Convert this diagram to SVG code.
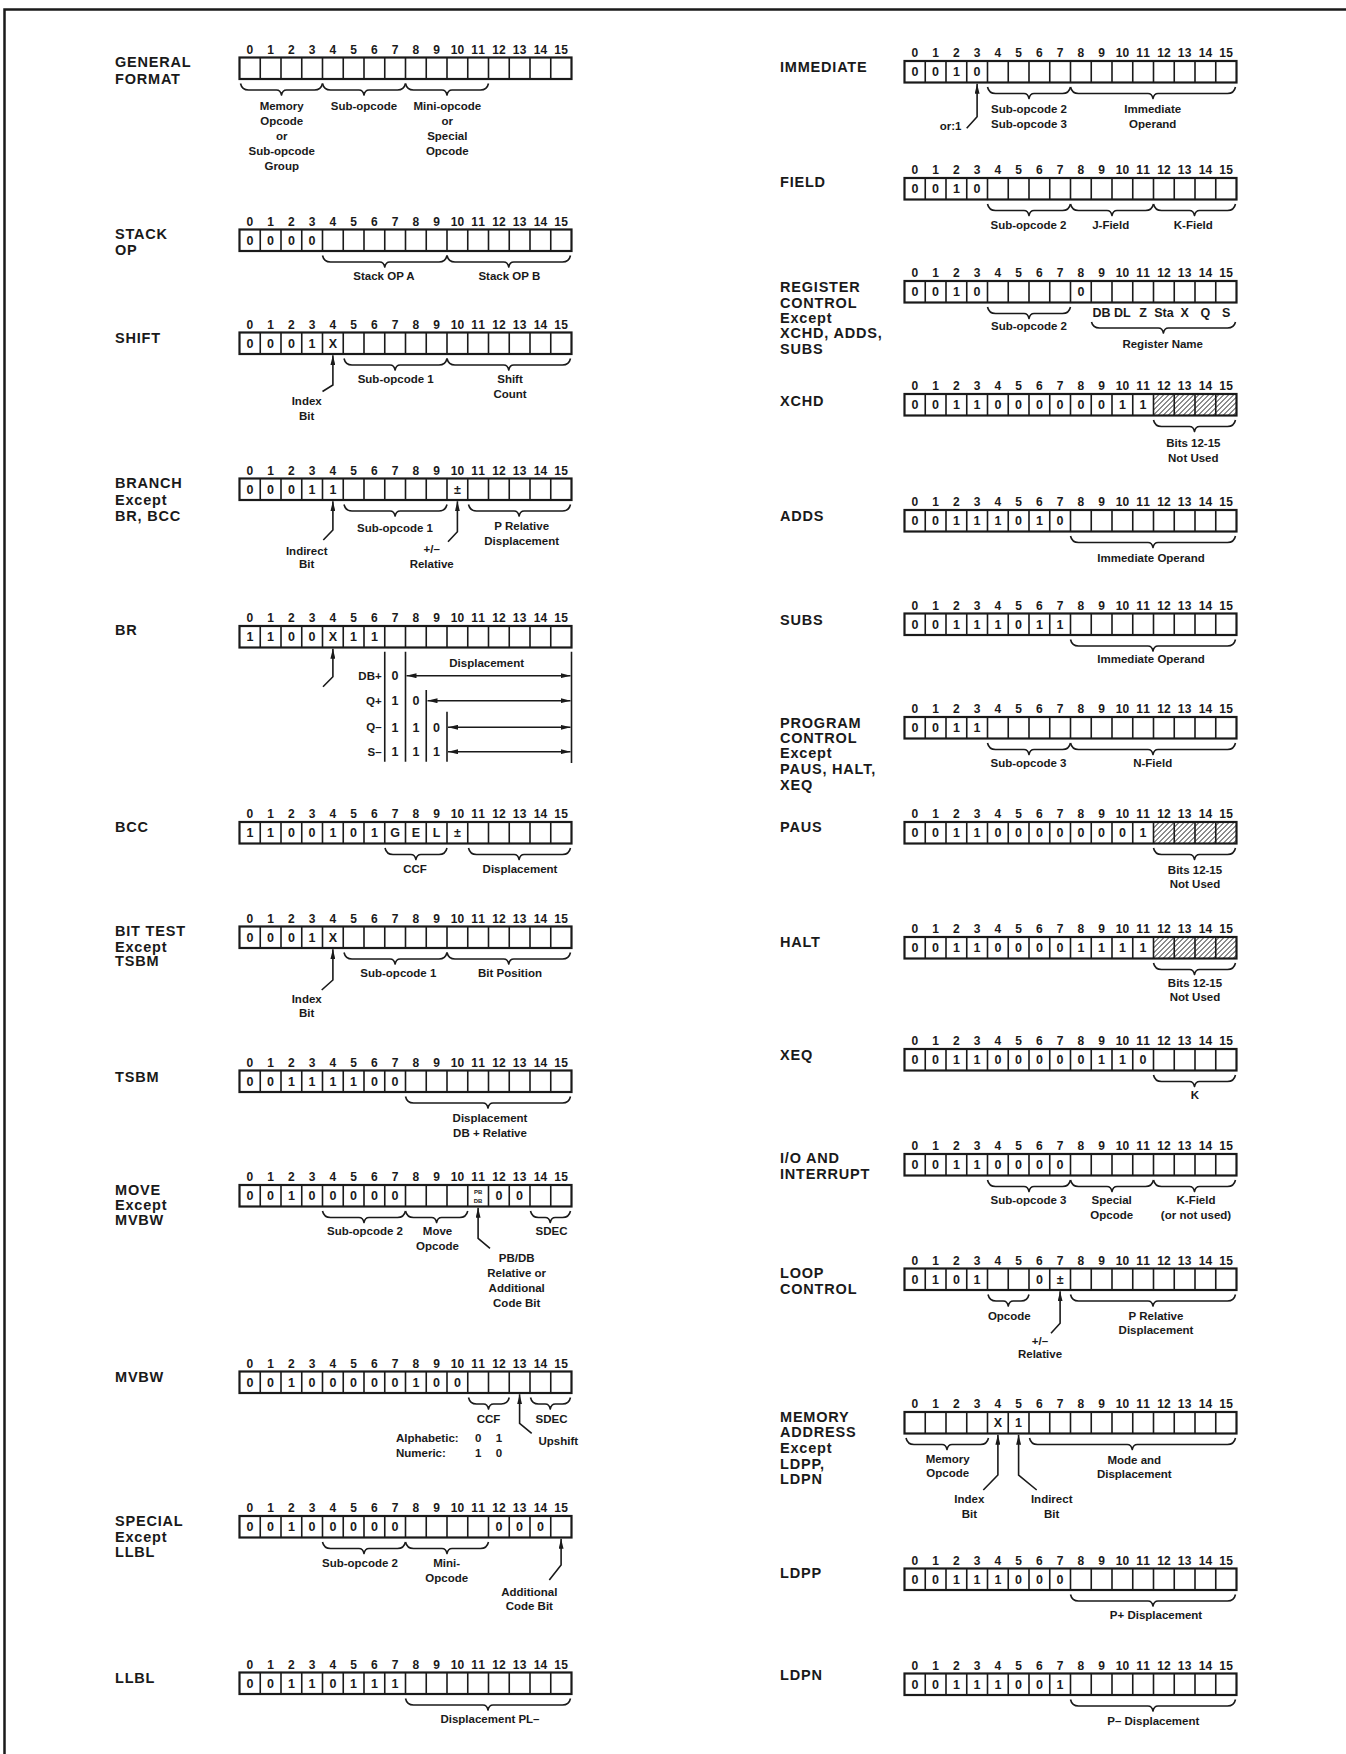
<svg xmlns="http://www.w3.org/2000/svg" xmlns:xlink="http://www.w3.org/1999/xlink" width="1346" height="1754" viewBox="0 0 1346 1754">
<style>
.box{fill:none;stroke:#1a1a1a;stroke-width:2.2}
.div{fill:none;stroke:#1a1a1a;stroke-width:1.6}
.brace{fill:none;stroke:#1a1a1a;stroke-width:1.6;stroke-linejoin:round}
.ln{fill:none;stroke:#1a1a1a;stroke-width:1.6}
.num{font-family:"Liberation Sans",Arial,sans-serif;font-size:12px;font-weight:bold;text-anchor:middle;fill:#1a1a1a}
.val{font-family:"Liberation Sans",Arial,sans-serif;font-size:12.5px;font-weight:bold;text-anchor:middle;fill:#1a1a1a}
.tiny{font-family:"Liberation Sans",Arial,sans-serif;font-size:6px;font-weight:bold;text-anchor:middle;fill:#1a1a1a}
.name{font-family:"Liberation Sans",Arial,sans-serif;font-size:14.5px;font-weight:bold;letter-spacing:0.8px;fill:#1a1a1a}
.lbl{font-family:"Liberation Sans",Arial,sans-serif;font-size:11.5px;font-weight:bold;text-anchor:middle;fill:#1a1a1a}
.lbl-l{font-family:"Liberation Sans",Arial,sans-serif;font-size:11.5px;font-weight:bold;fill:#1a1a1a}
.lbl-r{font-family:"Liberation Sans",Arial,sans-serif;font-size:11.5px;font-weight:bold;text-anchor:end;fill:#1a1a1a}
.arrow{fill:none;stroke:#1a1a1a;stroke-width:1.6;marker-end:url(#ah)}
.darrow{fill:none;stroke:#1a1a1a;stroke-width:1.6;marker-start:url(#ah);marker-end:url(#ah)}
</style>
<defs>
<marker id="ah" viewBox="0 0 10 5" refX="10" refY="2.5" markerWidth="10" markerHeight="5" orient="auto-start-reverse" markerUnits="userSpaceOnUse"><path d="M0,0 L10,2.5 L0,5 z" fill="#1a1a1a"/></marker>
<pattern id="hatch" patternUnits="userSpaceOnUse" width="5" height="5"><path d="M0,5 L5,0 M-1,1 L1,-1 M4,6 L6,4" stroke="#1a1a1a" stroke-width="1"/></pattern>
<g id="reg"><rect x="0" y="0" width="332" height="21.5" class="box"/><path class="div" d="M20.75,0v21.5M41.5,0v21.5M62.25,0v21.5M83,0v21.5M103.75,0v21.5M124.5,0v21.5M145.25,0v21.5M166,0v21.5M186.75,0v21.5M207.5,0v21.5M228.25,0v21.5M249,0v21.5M269.75,0v21.5M290.5,0v21.5M311.25,0v21.5"/></g>
</defs>
<rect x="0" y="0" width="1346" height="1754" fill="#ffffff"/>
<path d="M4.5,1754 V9.5 H1346" fill="none" stroke="#1a1a1a" stroke-width="2.5"/>

<!-- LEFT COLUMN -->
<g id="general-format" transform="translate(239.5,57.5)">
<text class="name" x="-124.5" y="9.5">GENERAL</text>
<text class="name" x="-124.5" y="26">FORMAT</text>
<use xlink:href="#reg" href="#reg"/>
<text class="num" x="10.4 31.1 51.9 72.6 93.4 114.1 134.9 155.6 176.4 197.1 214.5 221.3 235.2 242 256 262.8 276.7 283.5 297.5 304.3 318.2 325" y="-4">0123456789101112131415</text>
<path class="brace" d="M1,26 Q2.5,32.5 9,32.5 H37 Q41,32.5 42,37.5 Q43,32.5 47,32.5 H75 Q81.5,32.5 83,26"/>
<path class="brace" d="M83,26 Q84.5,32.5 91,32.5 H119.5 Q123.5,32.5 124.5,37.5 Q125.5,32.5 129.5,32.5 H158 Q164.5,32.5 166,26"/>
<path class="brace" d="M166,26 Q167.5,32.5 174,32.5 H202.5 Q206.5,32.5 207.5,37.5 Q208.5,32.5 212.5,32.5 H241 Q247.5,32.5 249,26"/>
<text class="lbl" x="42.2" y="52.5">Memory</text>
<text class="lbl" x="42.2" y="67.5">Opcode</text>
<text class="lbl" x="42.2" y="82.5">or</text>
<text class="lbl" x="42.2" y="97.5">Sub-opcode</text>
<text class="lbl" x="42.2" y="112.5">Group</text>
<text class="lbl" x="124.5" y="52.5">Sub-opcode</text>
<text class="lbl" x="207.8" y="52.5">Mini-opcode</text>
<text class="lbl" x="207.8" y="67.5">or</text>
<text class="lbl" x="207.8" y="82.5">Special</text>
<text class="lbl" x="207.8" y="97.5">Opcode</text>
</g>

<g id="stack-op" transform="translate(239.5,229.5)">
<text class="name" x="-124.5" y="9.8">STACK</text>
<text class="name" x="-124.5" y="25.5">OP</text>
<use xlink:href="#reg" href="#reg"/>
<text class="num" x="10.4 31.1 51.9 72.6 93.4 114.1 134.9 155.6 176.4 197.1 214.5 221.3 235.2 242 256 262.8 276.7 283.5 297.5 304.3 318.2 325" y="-4">0123456789101112131415</text>
<text class="val" x="10.4 31.1 51.9 72.6" y="15.3">0000</text>
<path class="brace" d="M83,26 Q84.5,32.5 91,32.5 H140.25 Q144.25,32.5 145.25,37.5 Q146.25,32.5 150.25,32.5 H199.5 Q206,32.5 207.5,26"/>
<path class="brace" d="M207.5,26 Q209,32.5 215.5,32.5 H264.25 Q268.25,32.5 269.25,37.5 Q270.25,32.5 274.25,32.5 H323 Q329.5,32.5 331,26"/>
<text class="lbl" x="144.5" y="50.5">Stack OP A</text>
<text class="lbl" x="269.8" y="50.5">Stack OP B</text>
</g>

<g id="shift" transform="translate(239.5,332.5)">
<text class="name" x="-124.5" y="10.2">SHIFT</text>
<use xlink:href="#reg" href="#reg"/>
<text class="num" x="10.4 31.1 51.9 72.6 93.4 114.1 134.9 155.6 176.4 197.1 214.5 221.3 235.2 242 256 262.8 276.7 283.5 297.5 304.3 318.2 325" y="-4">0123456789101112131415</text>
<text class="val" x="10.4 31.1 51.9 72.6 93.4" y="15.3">0001X</text>
<path class="brace" d="M104.5,26 Q106,32.5 112.5,32.5 H150.6 Q154.6,32.5 155.6,37.5 Q156.6,32.5 160.6,32.5 H199.5 Q206,32.5 207.5,26"/>
<path class="brace" d="M207.5,26 Q209,32.5 215.5,32.5 H264.25 Q268.25,32.5 269.25,37.5 Q270.25,32.5 274.25,32.5 H323 Q329.5,32.5 331,26"/>
<text class="lbl" x="156.2" y="50.5">Sub-opcode 1</text>
<text class="lbl" x="270.5" y="50.5">Shift</text>
<text class="lbl" x="270.5" y="65.5">Count</text>
<text class="lbl" x="67.2" y="72">Index</text>
<text class="lbl" x="67.2" y="87">Bit</text>
</g>

<g id="branch" transform="translate(239.5,478.5)">
<text class="name" x="-124.5" y="9.8">BRANCH</text>
<text class="name" x="-124.5" y="26.5">Except</text>
<text class="name" x="-124.5" y="42.2">BR, BCC</text>
<use xlink:href="#reg" href="#reg"/>
<text class="num" x="10.4 31.1 51.9 72.6 93.4 114.1 134.9 155.6 176.4 197.1 214.5 221.3 235.2 242 256 262.8 276.7 283.5 297.5 304.3 318.2 325" y="-4">0123456789101112131415</text>
<text class="val" x="10.4 31.1 51.9 72.6 93.4 217.9" y="15.3">00011±</text>
<path class="brace" d="M104.5,26 Q106,32.5 112.5,32.5 H150.6 Q154.6,32.5 155.6,37.5 Q156.6,32.5 160.6,32.5 H199.5 Q206,32.5 207.5,26"/>
<path class="brace" d="M229,26 Q230.5,32.5 237,32.5 H274.6 Q278.6,32.5 279.6,37.5 Q280.6,32.5 284.6,32.5 H323 Q329.5,32.5 331,26"/>
<text class="lbl" x="155.5" y="53.2">Sub-opcode 1</text>
<text class="lbl" x="282.2" y="51.5">P Relative</text>
<text class="lbl" x="282.2" y="66.5">Displacement</text>
<text class="lbl" x="67.2" y="76.5">Indirect</text>
<text class="lbl" x="67.2" y="89.5">Bit</text>
<text class="lbl" x="192.2" y="74.8">+/–</text>
<text class="lbl" x="192.2" y="89.5">Relative</text>
</g>

<g id="br" transform="translate(239.5,626)">
<text class="name" x="-124.5" y="9">BR</text>
<use xlink:href="#reg" href="#reg"/>
<text class="num" x="10.4 31.1 51.9 72.6 93.4 114.1 134.9 155.6 176.4 197.1 214.5 221.3 235.2 242 256 262.8 276.7 283.5 297.5 304.3 318.2 325" y="-4">0123456789101112131415</text>
<text class="val" x="10.4 31.1 51.9 72.6 93.4 114.1 134.9" y="15.3">1100X11</text>
<path class="ln" d="M145.25,25.7V135.7M166,25.7V135.7M186.75,64V135.7M207.5,85.7V135.7M332,25.7V137"/>
<text class="lbl" x="247.2" y="40.7">Displacement</text>
<text class="lbl-r" x="142.2" y="53.5">DB+</text>
<text class="lbl-r" x="142.2" y="79">Q+</text>
<text class="lbl-r" x="142.2" y="105">Q–</text>
<text class="lbl-r" x="142.2" y="129.5">S–</text>
<text class="val" x="155.6" y="53.7">0</text>
<text class="val" x="155.6 176.4" y="79">10</text>
<text class="val" x="155.6 176.4 197.1" y="105.5">110</text>
<text class="val" x="155.6 176.4 197.1" y="130">111</text>
</g>

<g id="bcc" transform="translate(239.5,822)">
<text class="name" x="-124.5" y="9.7">BCC</text>
<use xlink:href="#reg" href="#reg"/>
<text class="num" x="10.4 31.1 51.9 72.6 93.4 114.1 134.9 155.6 176.4 197.1 214.5 221.3 235.2 242 256 262.8 276.7 283.5 297.5 304.3 318.2 325" y="-4">0123456789101112131415</text>
<text class="val" x="10.4 31.1 51.9 72.6 93.4 114.1 134.9 155.6 176.4 197.1 217.9" y="15.3">1100101GEL±</text>
<path class="brace" d="M145.5,26 Q147,32.5 153.5,32.5 H171.4 Q175.4,32.5 176.4,37.5 Q177.4,32.5 181.4,32.5 H199.5 Q206,32.5 207.5,26"/>
<path class="brace" d="M229,26 Q230.5,32.5 237,32.5 H274.6 Q278.6,32.5 279.6,37.5 Q280.6,32.5 284.6,32.5 H323 Q329.5,32.5 331,26"/>
<text class="lbl" x="175.5" y="51.3">CCF</text>
<text class="lbl" x="280.5" y="51.3">Displacement</text>
</g>

<g id="bit-test" transform="translate(239.5,926.5)">
<text class="name" x="-124.5" y="9.5">BIT TEST</text>
<text class="name" x="-124.5" y="25.2">Except</text>
<text class="name" x="-124.5" y="39.5">TSBM</text>
<use xlink:href="#reg" href="#reg"/>
<text class="num" x="10.4 31.1 51.9 72.6 93.4 114.1 134.9 155.6 176.4 197.1 214.5 221.3 235.2 242 256 262.8 276.7 283.5 297.5 304.3 318.2 325" y="-4">0123456789101112131415</text>
<text class="val" x="10.4 31.1 51.9 72.6 93.4" y="15.3">0001X</text>
<path class="brace" d="M104.5,26 Q106,32.5 112.5,32.5 H150.6 Q154.6,32.5 155.6,37.5 Q156.6,32.5 160.6,32.5 H199.5 Q206,32.5 207.5,26"/>
<path class="brace" d="M207.5,26 Q209,32.5 215.5,32.5 H264.25 Q268.25,32.5 269.25,37.5 Q270.25,32.5 274.25,32.5 H323 Q329.5,32.5 331,26"/>
<text class="lbl" x="158.8" y="50.8">Sub-opcode 1</text>
<text class="lbl" x="270.5" y="50.8">Bit Position</text>
<text class="lbl" x="67.2" y="76.8">Index</text>
<text class="lbl" x="67.2" y="90.2">Bit</text>
</g>

<g id="tsbm" transform="translate(239.5,1070.5)">
<text class="name" x="-124.5" y="11.2">TSBM</text>
<use xlink:href="#reg" href="#reg"/>
<text class="num" x="10.4 31.1 51.9 72.6 93.4 114.1 134.9 155.6 176.4 197.1 214.5 221.3 235.2 242 256 262.8 276.7 283.5 297.5 304.3 318.2 325" y="-4">0123456789101112131415</text>
<text class="val" x="10.4 31.1 51.9 72.6 93.4 114.1 134.9 155.6" y="15.3">00111100</text>
<path class="brace" d="M166,26 Q167.5,32.5 174,32.5 H243.5 Q247.5,32.5 248.5,37.5 Q249.5,32.5 253.5,32.5 H323 Q329.5,32.5 331,26"/>
<text class="lbl" x="250.5" y="51.2">Displacement</text>
<text class="lbl" x="250.5" y="66.2">DB + Relative</text>
</g>

<g id="move" transform="translate(239.5,1185)">
<text class="name" x="-124.5" y="10">MOVE</text>
<text class="name" x="-124.5" y="25">Except</text>
<text class="name" x="-124.5" y="40">MVBW</text>
<use xlink:href="#reg" href="#reg"/>
<text class="num" x="10.4 31.1 51.9 72.6 93.4 114.1 134.9 155.6 176.4 197.1 214.5 221.3 235.2 242 256 262.8 276.7 283.5 297.5 304.3 318.2 325" y="-4">0123456789101112131415</text>
<text class="val" x="10.4 31.1 51.9 72.6 93.4 114.1 134.9 155.6" y="15.3">00100000</text>
<text class="val" x="259.4 280.1" y="15.3">00</text>
<text class="tiny" x="238.6" y="8.5">PB</text>
<text class="tiny" x="238.6" y="18">DB</text>
<path class="brace" d="M83,26 Q84.5,32.5 91,32.5 H119.5 Q123.5,32.5 124.5,37.5 Q125.5,32.5 129.5,32.5 H158 Q164.5,32.5 166,26"/>
<path class="brace" d="M166,26 Q167.5,32.5 174,32.5 H192.1 Q196.1,32.5 197.1,37.5 Q198.1,32.5 202.1,32.5 H220.25 Q226.75,32.5 228.25,26"/>
<path class="brace" d="M291,26 Q292.5,32.5 299,32.5 H305.75 Q309.75,32.5 310.75,37.5 Q311.75,32.5 315.75,32.5 H323 Q329.5,32.5 331,26"/>
<text class="lbl" x="125.5" y="50">Sub-opcode 2</text>
<text class="lbl" x="198" y="50">Move</text>
<text class="lbl" x="198" y="65">Opcode</text>
<text class="lbl" x="312" y="50">SDEC</text>
<text class="lbl" x="277.2" y="76.7">PB/DB</text>
<text class="lbl" x="277.2" y="91.7">Relative or</text>
<text class="lbl" x="277.2" y="106.7">Additional</text>
<text class="lbl" x="277.2" y="121.7">Code Bit</text>
</g>

<g id="mvbw" transform="translate(239.5,1371.5)">
<text class="name" x="-124.5" y="10.2">MVBW</text>
<use xlink:href="#reg" href="#reg"/>
<text class="num" x="10.4 31.1 51.9 72.6 93.4 114.1 134.9 155.6 176.4 197.1 214.5 221.3 235.2 242 256 262.8 276.7 283.5 297.5 304.3 318.2 325" y="-4">0123456789101112131415</text>
<text class="val" x="10.4 31.1 51.9 72.6 93.4 114.1 134.9 155.6 176.4 197.1 217.9" y="15.3">00100000100</text>
<path class="brace" d="M229,26 Q230.5,32.5 237,32.5 H244 Q248,32.5 249,37.5 Q250,32.5 254,32.5 H261.75 Q268.25,32.5 269.75,26"/>
<path class="brace" d="M291,26 Q292.5,32.5 299,32.5 H305.75 Q309.75,32.5 310.75,37.5 Q311.75,32.5 315.75,32.5 H323 Q329.5,32.5 331,26"/>
<text class="lbl" x="249" y="51.8">CCF</text>
<text class="lbl" x="312" y="51.8">SDEC</text>
<text class="lbl" x="318.8" y="73.5">Upshift</text>
<text class="lbl-l" x="156.5" y="70.2">Alphabetic:</text>
<text class="lbl-l" x="156.5" y="85.2">Numeric:</text>
<text class="lbl" x="238.6 259.4" y="70.2">01</text>
<text class="lbl" x="238.6 259.4" y="85.2">10</text>
</g>

<g id="special" transform="translate(239.5,1516)">
<text class="name" x="-124.5" y="10">SPECIAL</text>
<text class="name" x="-124.5" y="25.7">Except</text>
<text class="name" x="-124.5" y="41.3">LLBL</text>
<use xlink:href="#reg" href="#reg"/>
<text class="num" x="10.4 31.1 51.9 72.6 93.4 114.1 134.9 155.6 176.4 197.1 214.5 221.3 235.2 242 256 262.8 276.7 283.5 297.5 304.3 318.2 325" y="-4">0123456789101112131415</text>
<text class="val" x="10.4 31.1 51.9 72.6 93.4 114.1 134.9 155.6 259.4 280.1 300.9" y="15.3">00100000000</text>
<path class="brace" d="M83,26 Q84.5,32.5 91,32.5 H119.5 Q123.5,32.5 124.5,37.5 Q125.5,32.5 129.5,32.5 H158 Q164.5,32.5 166,26"/>
<path class="brace" d="M166,26 Q167.5,32.5 174,32.5 H202.5 Q206.5,32.5 207.5,37.5 Q208.5,32.5 212.5,32.5 H241 Q247.5,32.5 249,26"/>
<text class="lbl" x="120.5" y="50.7">Sub-opcode 2</text>
<text class="lbl" x="207.2" y="50.7">Mini-</text>
<text class="lbl" x="207.2" y="65.7">Opcode</text>
<text class="lbl" x="289.8" y="80">Additional</text>
<text class="lbl" x="289.8" y="94">Code Bit</text>
</g>

<g id="llbl" transform="translate(239.5,1672.5)">
<text class="name" x="-124.5" y="10.2">LLBL</text>
<use xlink:href="#reg" href="#reg"/>
<text class="num" x="10.4 31.1 51.9 72.6 93.4 114.1 134.9 155.6 176.4 197.1 214.5 221.3 235.2 242 256 262.8 276.7 283.5 297.5 304.3 318.2 325" y="-4">0123456789101112131415</text>
<text class="val" x="10.4 31.1 51.9 72.6 93.4 114.1 134.9 155.6" y="15.3">00110111</text>
<path class="brace" d="M166,26 Q167.5,32.5 174,32.5 H243.5 Q247.5,32.5 248.5,37.5 Q249.5,32.5 253.5,32.5 H323 Q329.5,32.5 331,26"/>
<text class="lbl" x="250.5" y="50.8">Displacement PL–</text>
</g>

<!-- RIGHT COLUMN -->
<g id="immediate" transform="translate(904.5,61)">
<text class="name" x="-124.5" y="10.7">IMMEDIATE</text>
<use xlink:href="#reg" href="#reg"/>
<text class="num" x="10.4 31.1 51.9 72.6 93.4 114.1 134.9 155.6 176.4 197.1 214.5 221.3 235.2 242 256 262.8 276.7 283.5 297.5 304.3 318.2 325" y="-4">0123456789101112131415</text>
<text class="val" x="10.4 31.1 51.9 72.6" y="15.3">0010</text>
<path class="brace" d="M83,26 Q84.5,32.5 91,32.5 H119.5 Q123.5,32.5 124.5,37.5 Q125.5,32.5 129.5,32.5 H158 Q164.5,32.5 166,26"/>
<path class="brace" d="M166,26 Q167.5,32.5 174,32.5 H243.5 Q247.5,32.5 248.5,37.5 Q249.5,32.5 253.5,32.5 H323 Q329.5,32.5 331,26"/>
<text class="lbl" x="124.5" y="52.3">Sub-opcode 2</text>
<text class="lbl" x="124.5" y="67.3">Sub-opcode 3</text>
<text class="lbl" x="248.2" y="52.3">Immediate</text>
<text class="lbl" x="248.2" y="67.3">Operand</text>
<text class="lbl-r" x="57" y="69">or:1</text>
</g>

<g id="field" transform="translate(904.5,178)">
<text class="name" x="-124.5" y="9.3">FIELD</text>
<use xlink:href="#reg" href="#reg"/>
<text class="num" x="10.4 31.1 51.9 72.6 93.4 114.1 134.9 155.6 176.4 197.1 214.5 221.3 235.2 242 256 262.8 276.7 283.5 297.5 304.3 318.2 325" y="-4">0123456789101112131415</text>
<text class="val" x="10.4 31.1 51.9 72.6" y="15.3">0010</text>
<path class="brace" d="M83,26 Q84.5,32.5 91,32.5 H119.5 Q123.5,32.5 124.5,37.5 Q125.5,32.5 129.5,32.5 H158 Q164.5,32.5 166,26"/>
<path class="brace" d="M166,26 Q167.5,32.5 174,32.5 H202.5 Q206.5,32.5 207.5,37.5 Q208.5,32.5 212.5,32.5 H241 Q247.5,32.5 249,26"/>
<path class="brace" d="M249,26 Q250.5,32.5 257,32.5 H285 Q289,32.5 290,37.5 Q291,32.5 295,32.5 H323 Q329.5,32.5 331,26"/>
<text class="lbl" x="124" y="51.3">Sub-opcode 2</text>
<text class="lbl" x="206.2" y="51.3">J-Field</text>
<text class="lbl" x="288.8" y="51.3">K-Field</text>
</g>

<g id="register-control" transform="translate(904.5,281)">
<text class="name" x="-124.5" y="10.7">REGISTER</text>
<text class="name" x="-124.5" y="26.7">CONTROL</text>
<text class="name" x="-124.5" y="41.7">Except</text>
<text class="name" x="-124.5" y="57.3">XCHD, ADDS,</text>
<text class="name" x="-124.5" y="73">SUBS</text>
<use xlink:href="#reg" href="#reg"/>
<text class="num" x="10.4 31.1 51.9 72.6 93.4 114.1 134.9 155.6 176.4 197.1 214.5 221.3 235.2 242 256 262.8 276.7 283.5 297.5 304.3 318.2 325" y="-4">0123456789101112131415</text>
<text class="val" x="10.4 31.1 51.9 72.6 176.4" y="15.3">00100</text>
<path class="brace" d="M83,26 Q84.5,32.5 91,32.5 H119.5 Q123.5,32.5 124.5,37.5 Q125.5,32.5 129.5,32.5 H158 Q164.5,32.5 166,26"/>
<text class="lbl" x="124.5" y="49">Sub-opcode 2</text>
<text class="val" x="197.1" y="35.7">DB</text>
<text class="val" x="217.9" y="35.7">DL</text>
<text class="val" x="238.6" y="35.7">Z</text>
<text class="val" x="259.4" y="35.7">Sta</text>
<text class="val" x="280.1" y="35.7">X</text>
<text class="val" x="300.9" y="35.7">Q</text>
<text class="val" x="321.6" y="35.7">S</text>
<path class="brace" d="M187,41 Q188.5,47 195,47 H253.9 Q257.9,47 258.9,52 Q259.9,47 263.9,47 H323 Q329.5,47 331,41"/>
<text class="lbl" x="258.2" y="67.3">Register Name</text>
</g>

<g id="xchd" transform="translate(904.5,394)">
<text class="name" x="-124.5" y="11.5">XCHD</text>
<rect x="249" y="0" width="83" height="21.5" fill="url(#hatch)"/>
<use xlink:href="#reg" href="#reg"/>
<text class="num" x="10.4 31.1 51.9 72.6 93.4 114.1 134.9 155.6 176.4 197.1 214.5 221.3 235.2 242 256 262.8 276.7 283.5 297.5 304.3 318.2 325" y="-4">0123456789101112131415</text>
<text class="val" x="10.4 31.1 51.9 72.6 93.4 114.1 134.9 155.6 176.4 197.1 217.9 238.6" y="15.3">001100000011</text>
<path class="brace" d="M249,26 Q250.5,32.5 257,32.5 H285 Q289,32.5 290,37.5 Q291,32.5 295,32.5 H323 Q329.5,32.5 331,26"/>
<text class="lbl" x="288.8" y="52.7">Bits 12-15</text>
<text class="lbl" x="288.8" y="67.7">Not Used</text>
</g>

<g id="adds" transform="translate(904.5,510)">
<text class="name" x="-124.5" y="10.7">ADDS</text>
<use xlink:href="#reg" href="#reg"/>
<text class="num" x="10.4 31.1 51.9 72.6 93.4 114.1 134.9 155.6 176.4 197.1 214.5 221.3 235.2 242 256 262.8 276.7 283.5 297.5 304.3 318.2 325" y="-4">0123456789101112131415</text>
<text class="val" x="10.4 31.1 51.9 72.6 93.4 114.1 134.9 155.6" y="15.3">00111010</text>
<path class="brace" d="M166,26 Q167.5,32.5 174,32.5 H243.5 Q247.5,32.5 248.5,37.5 Q249.5,32.5 253.5,32.5 H323 Q329.5,32.5 331,26"/>
<text class="lbl" x="246.5" y="51.7">Immediate Operand</text>
</g>

<g id="subs" transform="translate(904.5,613.5)">
<text class="name" x="-124.5" y="11.5">SUBS</text>
<use xlink:href="#reg" href="#reg"/>
<text class="num" x="10.4 31.1 51.9 72.6 93.4 114.1 134.9 155.6 176.4 197.1 214.5 221.3 235.2 242 256 262.8 276.7 283.5 297.5 304.3 318.2 325" y="-4">0123456789101112131415</text>
<text class="val" x="10.4 31.1 51.9 72.6 93.4 114.1 134.9 155.6" y="15.3">00111011</text>
<path class="brace" d="M166,26 Q167.5,32.5 174,32.5 H243.5 Q247.5,32.5 248.5,37.5 Q249.5,32.5 253.5,32.5 H323 Q329.5,32.5 331,26"/>
<text class="lbl" x="246.5" y="49.8">Immediate Operand</text>
</g>

<g id="program-control" transform="translate(904.5,717)">
<text class="name" x="-124.5" y="10.5">PROGRAM</text>
<text class="name" x="-124.5" y="26.3">CONTROL</text>
<text class="name" x="-124.5" y="41.3">Except</text>
<text class="name" x="-124.5" y="57">PAUS, HALT,</text>
<text class="name" x="-124.5" y="73">XEQ</text>
<use xlink:href="#reg" href="#reg"/>
<text class="num" x="10.4 31.1 51.9 72.6 93.4 114.1 134.9 155.6 176.4 197.1 214.5 221.3 235.2 242 256 262.8 276.7 283.5 297.5 304.3 318.2 325" y="-4">0123456789101112131415</text>
<text class="val" x="10.4 31.1 51.9 72.6" y="15.3">0011</text>
<path class="brace" d="M83,26 Q84.5,32.5 91,32.5 H119.5 Q123.5,32.5 124.5,37.5 Q125.5,32.5 129.5,32.5 H158 Q164.5,32.5 166,26"/>
<path class="brace" d="M166,26 Q167.5,32.5 174,32.5 H243.5 Q247.5,32.5 248.5,37.5 Q249.5,32.5 253.5,32.5 H323 Q329.5,32.5 331,26"/>
<text class="lbl" x="124" y="49.7">Sub-opcode 3</text>
<text class="lbl" x="248.2" y="49.7">N-Field</text>
</g>

<g id="paus" transform="translate(904.5,822)">
<text class="name" x="-124.5" y="9.7">PAUS</text>
<rect x="249" y="0" width="83" height="21.5" fill="url(#hatch)"/>
<use xlink:href="#reg" href="#reg"/>
<text class="num" x="10.4 31.1 51.9 72.6 93.4 114.1 134.9 155.6 176.4 197.1 214.5 221.3 235.2 242 256 262.8 276.7 283.5 297.5 304.3 318.2 325" y="-4">0123456789101112131415</text>
<text class="val" x="10.4 31.1 51.9 72.6 93.4 114.1 134.9 155.6 176.4 197.1 217.9 238.6" y="15.3">001100000001</text>
<path class="brace" d="M249,26 Q250.5,32.5 257,32.5 H285 Q289,32.5 290,37.5 Q291,32.5 295,32.5 H323 Q329.5,32.5 331,26"/>
<text class="lbl" x="290.5" y="52">Bits 12-15</text>
<text class="lbl" x="290.5" y="66.3">Not Used</text>
</g>

<g id="halt" transform="translate(904.5,937)">
<text class="name" x="-124.5" y="9.7">HALT</text>
<rect x="249" y="0" width="83" height="21.5" fill="url(#hatch)"/>
<use xlink:href="#reg" href="#reg"/>
<text class="num" x="10.4 31.1 51.9 72.6 93.4 114.1 134.9 155.6 176.4 197.1 214.5 221.3 235.2 242 256 262.8 276.7 283.5 297.5 304.3 318.2 325" y="-4">0123456789101112131415</text>
<text class="val" x="10.4 31.1 51.9 72.6 93.4 114.1 134.9 155.6 176.4 197.1 217.9 238.6" y="15.3">001100001111</text>
<path class="brace" d="M249,26 Q250.5,32.5 257,32.5 H285 Q289,32.5 290,37.5 Q291,32.5 295,32.5 H323 Q329.5,32.5 331,26"/>
<text class="lbl" x="290.5" y="49.7">Bits 12-15</text>
<text class="lbl" x="290.5" y="64">Not Used</text>
</g>

<g id="xeq" transform="translate(904.5,1049)">
<text class="name" x="-124.5" y="10.5">XEQ</text>
<use xlink:href="#reg" href="#reg"/>
<text class="num" x="10.4 31.1 51.9 72.6 93.4 114.1 134.9 155.6 176.4 197.1 214.5 221.3 235.2 242 256 262.8 276.7 283.5 297.5 304.3 318.2 325" y="-4">0123456789101112131415</text>
<text class="val" x="10.4 31.1 51.9 72.6 93.4 114.1 134.9 155.6 176.4 197.1 217.9 238.6" y="15.3">001100000110</text>
<path class="brace" d="M249,26 Q250.5,32.5 257,32.5 H285 Q289,32.5 290,37.5 Q291,32.5 295,32.5 H323 Q329.5,32.5 331,26"/>
<text class="lbl" x="290.5" y="50.3">K</text>
</g>

<g id="io-interrupt" transform="translate(904.5,1154)">
<text class="name" x="-124.5" y="9.3">I/O AND</text>
<text class="name" x="-124.5" y="25.3">INTERRUPT</text>
<use xlink:href="#reg" href="#reg"/>
<text class="num" x="10.4 31.1 51.9 72.6 93.4 114.1 134.9 155.6 176.4 197.1 214.5 221.3 235.2 242 256 262.8 276.7 283.5 297.5 304.3 318.2 325" y="-4">0123456789101112131415</text>
<text class="val" x="10.4 31.1 51.9 72.6 93.4 114.1 134.9 155.6" y="15.3">00110000</text>
<path class="brace" d="M83,26 Q84.5,32.5 91,32.5 H119.5 Q123.5,32.5 124.5,37.5 Q125.5,32.5 129.5,32.5 H158 Q164.5,32.5 166,26"/>
<path class="brace" d="M166,26 Q167.5,32.5 174,32.5 H202.5 Q206.5,32.5 207.5,37.5 Q208.5,32.5 212.5,32.5 H241 Q247.5,32.5 249,26"/>
<path class="brace" d="M249,26 Q250.5,32.5 257,32.5 H285 Q289,32.5 290,37.5 Q291,32.5 295,32.5 H323 Q329.5,32.5 331,26"/>
<text class="lbl" x="124" y="50">Sub-opcode 3</text>
<text class="lbl" x="207.2" y="50">Special</text>
<text class="lbl" x="207.2" y="65.3">Opcode</text>
<text class="lbl" x="291.5" y="50">K-Field</text>
<text class="lbl" x="291.5" y="65.3">(or not used)</text>
</g>

<g id="loop-control" transform="translate(904.5,1268.5)">
<text class="name" x="-124.5" y="9.8">LOOP</text>
<text class="name" x="-124.5" y="25.8">CONTROL</text>
<use xlink:href="#reg" href="#reg"/>
<text class="num" x="10.4 31.1 51.9 72.6 93.4 114.1 134.9 155.6 176.4 197.1 214.5 221.3 235.2 242 256 262.8 276.7 283.5 297.5 304.3 318.2 325" y="-4">0123456789101112131415</text>
<text class="val" x="10.4 31.1 51.9 72.6 134.9 155.6" y="15.3">01010±</text>
<path class="brace" d="M83.5,26 Q85,32.5 91.5,32.5 H98.75 Q102.75,32.5 103.75,37.5 Q104.75,32.5 108.75,32.5 H116.5 Q123,32.5 124.5,26"/>
<path class="brace" d="M166,26 Q167.5,32.5 174,32.5 H243.5 Q247.5,32.5 248.5,37.5 Q249.5,32.5 253.5,32.5 H323 Q329.5,32.5 331,26"/>
<text class="lbl" x="104.8" y="51.5">Opcode</text>
<text class="lbl" x="251.5" y="51.5">P Relative</text>
<text class="lbl" x="251.5" y="65.5">Displacement</text>
<text class="lbl" x="135.5" y="76.5">+/–</text>
<text class="lbl" x="135.5" y="89.8">Relative</text>
</g>

<g id="memory-address" transform="translate(904.5,1412)">
<text class="name" x="-124.5" y="9.7">MEMORY</text>
<text class="name" x="-124.5" y="25.3">ADDRESS</text>
<text class="name" x="-124.5" y="41.3">Except</text>
<text class="name" x="-124.5" y="57">LDPP,</text>
<text class="name" x="-124.5" y="72">LDPN</text>
<use xlink:href="#reg" href="#reg"/>
<text class="num" x="10.4 31.1 51.9 72.6 93.4 114.1 134.9 155.6 176.4 197.1 214.5 221.3 235.2 242 256 262.8 276.7 283.5 297.5 304.3 318.2 325" y="-4">0123456789101112131415</text>
<text class="val" x="93.4 114.1" y="15.3">X1</text>
<path class="brace" d="M1.5,26 Q3,32.5 9.5,32.5 H37.5 Q41.5,32.5 42.5,37.5 Q43.5,32.5 47.5,32.5 H76 Q82.5,32.5 84,26"/>
<path class="brace" d="M125,26 Q126.5,32.5 133,32.5 H222.75 Q226.75,32.5 227.75,37.5 Q228.75,32.5 232.75,32.5 H323 Q329.5,32.5 331,26"/>
<text class="lbl" x="43.2" y="50.7">Memory</text>
<text class="lbl" x="43.2" y="64.7">Opcode</text>
<text class="lbl" x="229.8" y="52">Mode and</text>
<text class="lbl" x="229.8" y="66.3">Displacement</text>
<text class="lbl" x="64.8" y="91.3">Index</text>
<text class="lbl" x="64.8" y="106.3">Bit</text>
<text class="lbl" x="147.2" y="91.3">Indirect</text>
<text class="lbl" x="147.2" y="106.3">Bit</text>
</g>

<g id="ldpp" transform="translate(904.5,1568.5)">
<text class="name" x="-124.5" y="9.8">LDPP</text>
<use xlink:href="#reg" href="#reg"/>
<text class="num" x="10.4 31.1 51.9 72.6 93.4 114.1 134.9 155.6 176.4 197.1 214.5 221.3 235.2 242 256 262.8 276.7 283.5 297.5 304.3 318.2 325" y="-4">0123456789101112131415</text>
<text class="val" x="10.4 31.1 51.9 72.6 93.4 114.1 134.9 155.6" y="15.3">00111000</text>
<path class="brace" d="M166,26 Q167.5,32.5 174,32.5 H243.5 Q247.5,32.5 248.5,37.5 Q249.5,32.5 253.5,32.5 H323 Q329.5,32.5 331,26"/>
<text class="lbl" x="251.5" y="50.8">P+ Displacement</text>
</g>

<g id="ldpn" transform="translate(904.5,1673.5)">
<text class="name" x="-124.5" y="6.5">LDPN</text>
<use xlink:href="#reg" href="#reg"/>
<text class="num" x="10.4 31.1 51.9 72.6 93.4 114.1 134.9 155.6 176.4 197.1 214.5 221.3 235.2 242 256 262.8 276.7 283.5 297.5 304.3 318.2 325" y="-4">0123456789101112131415</text>
<text class="val" x="10.4 31.1 51.9 72.6 93.4 114.1 134.9 155.6" y="15.3">00111001</text>
<path class="brace" d="M166,26 Q167.5,32.5 174,32.5 H243.5 Q247.5,32.5 248.5,37.5 Q249.5,32.5 253.5,32.5 H323 Q329.5,32.5 331,26"/>
<text class="lbl" x="248.8" y="51.5">P– Displacement</text>
</g>

<!-- CONNECTORS (pointer arrows) -->
<g id="connectors">
<path class="arrow" transform="translate(239.5,332.5)" d="M83,59 L93.4,52.5 L93.4,22.8"/>
<path class="arrow" transform="translate(239.5,478.5)" d="M83.8,61.5 L93.4,51.5 L93.4,22.8"/>
<path class="arrow" transform="translate(239.5,478.5)" d="M208.5,63.2 L217.9,53.2 L217.9,22.8"/>
<path class="arrow" transform="translate(239.5,626)" d="M83.5,60.7 L93.4,50.7 L93.4,22.8"/>
<path class="darrow" transform="translate(239.5,626)" d="M167,49.7 H331"/>
<path class="darrow" transform="translate(239.5,626)" d="M188,74.7 H331"/>
<path class="darrow" transform="translate(239.5,626)" d="M208.5,101.3 H331"/>
<path class="darrow" transform="translate(239.5,626)" d="M208.5,125.7 H331"/>
<path class="arrow" transform="translate(239.5,926.5)" d="M82.2,63.5 L93.4,53.5 L93.4,22.8"/>
<path class="arrow" transform="translate(239.5,1185)" d="M250.5,63.3 L238.6,53.3 L238.6,22.8"/>
<path class="arrow" transform="translate(239.5,1371.5)" d="M292.2,61.8 L280.1,51.8 L280.1,22.8"/>
<path class="arrow" transform="translate(239.5,1516)" d="M309.8,64 L321.6,49 L321.6,22.8"/>
<path class="arrow" transform="translate(904.5,61)" d="M62.2,67.3 L72.6,55.7 L72.6,22.8"/>
<path class="arrow" transform="translate(904.5,1268.5)" d="M146.5,64.8 L155.6,54.8 L155.6,22.8"/>
<path class="arrow" transform="translate(904.5,1412)" d="M78.8,78 L93.4,63 L93.4,22.8"/>
<path class="arrow" transform="translate(904.5,1412)" d="M132.2,78 L114.1,63 L114.1,22.8"/>
</g>
</svg>
